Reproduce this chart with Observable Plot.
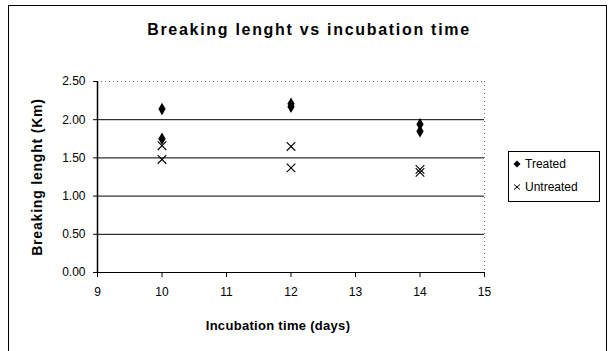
<!DOCTYPE html>
<html>
<head>
<meta charset="utf-8">
<script src="https://cdn.jsdelivr.net/npm/d3@7"></script>
<script src="https://cdn.jsdelivr.net/npm/@observablehq/plot@0.6"></script>
<style>
  html, body { margin: 0; padding: 0; background: #fff; overflow: hidden; }
  body { width: 610px; height: 351px; position: relative; font-family: "Liberation Sans", Arial, sans-serif; color: #000; }
  #frame { position: absolute; left: 8px; top: 5px; width: 599px; height: 360px; border: 1px solid #000; box-sizing: border-box; }
  #chart { position: absolute; left: 0; top: 0; }
  .lbl { position: absolute; white-space: nowrap; transform: translate(-50%, -50%); }
  #title { left: 309px; top: 30px; font-size: 16px; font-weight: bold; letter-spacing: 1.7px; }
  #xtitle { left: 278px; top: 325px; font-size: 13px; font-weight: bold; letter-spacing: 0.3px; }
  #ytitle { left: 37px; top: 177px; font-size: 14px; font-weight: bold; letter-spacing: 0.8px; transform: translate(-50%, -50%) rotate(-90deg); }
  #legend { position: absolute; left: 508px; top: 151px; width: 92px; height: 51px; border: 1px solid #000; box-sizing: border-box; background: #fff; font-size: 12px; }
  .item { position: absolute; left: 4px; display: flex; align-items: center; }
  .item svg { margin-right: 4px; }
</style>
</head>
<body>
<div id="frame"></div>
<div id="chart"></div>
<div id="title" class="lbl">Breaking lenght vs incubation time</div>
<div id="xtitle" class="lbl">Incubation time (days)</div>
<div id="ytitle" class="lbl">Breaking lenght (Km)</div>
<div id="legend"></div>
<script>
const seriesNames = ["Treated", "Untreated"];
const treatedDays = [10, 10, 12, 12, 14, 14];
const treatedValues = [2.14, 1.75, 2.21, 2.17, 1.94, 1.85];
const untreatedDays = [10, 10, 12, 12, 14, 14];
const untreatedValues = [1.66, 1.48, 1.65, 1.37, 1.35, 1.31];
const xTicks = [9, 10, 11, 12, 13, 14, 15];
const yTicks = [0, 0.5, 1, 1.5, 2, 2.5];
const gridValues = [0.5, 1, 1.5, 2];

const treated = treatedDays.map((d, i) => ({day: d, value: treatedValues[i]}));
const untreated = untreatedDays.map((d, i) => ({day: d, value: untreatedValues[i]}));

const chart = Plot.plot({
  width: 610,
  height: 351,
  marginLeft: 97,
  marginRight: 126,
  marginTop: 81,
  marginBottom: 79,
  style: {fontFamily: "'Liberation Sans', Arial, sans-serif", fontSize: "12px", color: "#000", background: "transparent"},
  x: {domain: [9, 15]},
  y: {domain: [0, 2.5]},
  marks: [
    Plot.ruleY(gridValues, {stroke: "#000", strokeWidth: 1}),
    Plot.ruleY([2.5], {stroke: "#777", strokeDasharray: "1,3"}),
    Plot.ruleX([15], {stroke: "#777", strokeDasharray: "1,3"}),
    Plot.ruleY([0], {stroke: "#000", strokeWidth: 1.2}),
    Plot.ruleX([9], {stroke: "#000", strokeWidth: 1.5}),
    Plot.axisX({ticks: xTicks, tickSize: 5, tickPadding: 10, label: null, tickFormat: d => String(d), fontSize: 12}),
    Plot.axisY({ticks: yTicks, tickSize: 4, tickPadding: 8, label: null, tickFormat: d => d.toFixed(2), fontSize: 12}),
    Plot.dot(untreated, {x: "day", y: "value", symbol: "times", r: 4, stroke: "#000", strokeWidth: 1.1}),
    Plot.dot(treated, {x: "day", y: "value", symbol: "diamond", r: 3.8, fill: "#000", stroke: "none"})
  ]
});
document.getElementById("chart").appendChild(chart);

const legend = document.getElementById("legend");
const symbols = {
  Treated: '<svg width="8" height="8" viewBox="-4 -4 8 8"><path d="M0,-3.5L3.5,0L0,3.5L-3.5,0Z" fill="#000"/></svg>',
  Untreated: '<svg width="8" height="8" viewBox="-4 -4 8 8"><path d="M-3,-2.5L3,2.5M-3,2.5L3,-2.5" stroke="#000" stroke-width="1"/></svg>'
};
seriesNames.forEach((name, i) => {
  const el = document.createElement("div");
  el.className = "item";
  el.style.top = (5 + i * 23) + "px";
  el.innerHTML = symbols[name] + "<span>" + name + "</span>";
  legend.appendChild(el);
});
</script>
</body>
</html>
